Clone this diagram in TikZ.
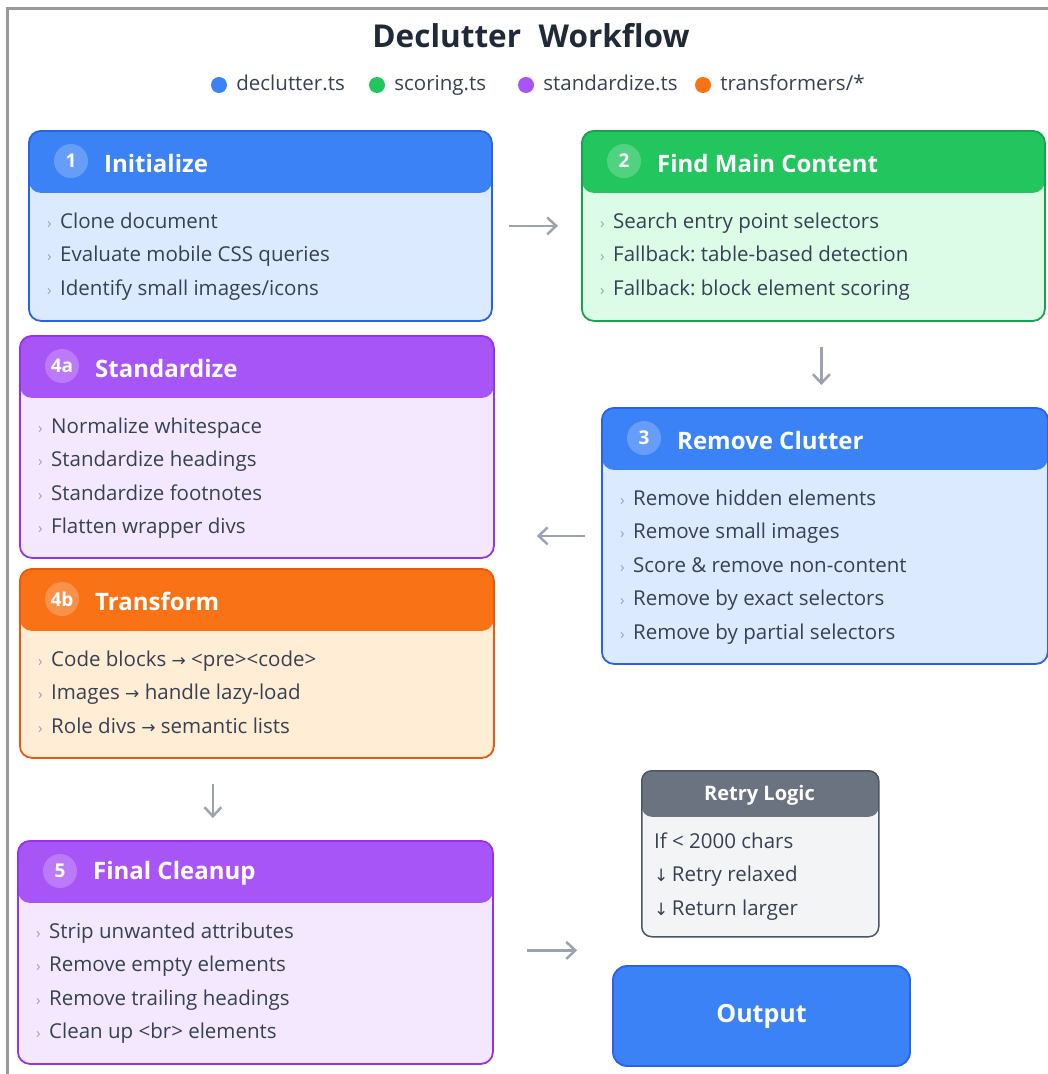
\documentclass[tikz,border=0pt]{standalone}
\usepackage{fontspec}
\setmainfont{Open Sans}
\newfontfamily\symfont{DejaVu Sans}
\usetikzlibrary{arrows.meta,positioning}
\frenchspacing

\definecolor{bluehead}{HTML}{3B82F6}
\definecolor{bluebody}{HTML}{DBEAFE}
\definecolor{blueline}{HTML}{2563EB}
\definecolor{greenhead}{HTML}{22C55E}
\definecolor{greenbody}{HTML}{DCFCE7}
\definecolor{greenline}{HTML}{16A34A}
\definecolor{purplehead}{HTML}{A855F7}
\definecolor{purplebody}{HTML}{F3E8FF}
\definecolor{purpleline}{HTML}{9333EA}
\definecolor{orangehead}{HTML}{F97316}
\definecolor{orangebody}{HTML}{FFEDD5}
\definecolor{orangeline}{HTML}{EA580C}
\definecolor{grayhead}{HTML}{6B7280}
\definecolor{graybody}{HTML}{F3F4F6}
\definecolor{grayline}{HTML}{4B5563}
\definecolor{textgray}{HTML}{374151}
\definecolor{titlegray}{HTML}{1F2937}
\definecolor{arrowgray}{HTML}{9CA3AF}
\definecolor{framegray}{HTML}{999999}

\newcommand{\toarr}{{\symfont\fontsize{17}{17}\selectfont →}}
\newcommand{\downarr}{{\symfont\fontsize{17}{17}\selectfont ↓}}
\newcommand{\bul}{\makebox[13pt][l]{\color{arrowgray}\fontsize{15}{15}\selectfont ›}}

\tikzset{
  card/.style={rectangle, rounded corners=12pt, line width=1.8pt, anchor=north west,
    inner sep=0pt, draw=#1line, fill=#1body,
    path picture={\fill[#1head] (path picture bounding box.north west)
      rectangle ([yshift=-62pt]path picture bounding box.north east);}},
  retrycard/.style={rectangle, rounded corners=10pt, line width=1.5pt, anchor=north west,
    inner sep=0pt, draw=grayline, fill=graybody,
    path picture={\fill[grayhead] (path picture bounding box.north west)
      rectangle ([yshift=-46pt]path picture bounding box.north east);}},
  badge/.style={circle, fill=white, fill opacity=0.22, text opacity=1, text=white,
    minimum size=34pt, inner sep=0pt, font=\bfseries\fontsize{19}{19}\selectfont},
  headtext/.style={anchor=west, inner sep=0pt, text=white, font=\bfseries\fontsize{24}{24}\selectfont},
  item/.style={anchor=west, inner sep=0pt, text=textgray, text height=15pt, text depth=5pt,
    font=\fontsize{20.5}{20.5}\selectfont},
  legdot/.style={circle, fill=#1, minimum size=16pt, inner sep=0pt},
  legtext/.style={inner sep=0pt, text=textgray, text height=15pt, text depth=5pt,
    font=\fontsize{20.5}{20.5}\selectfont},
  flow/.style={-{Straight Barb[length=9pt,width=17pt,line width=2.5pt]}, line width=2.5pt, draw=arrowgray},
  outbox/.style={rectangle, rounded corners=14pt, line width=1.8pt, draw=blueline, fill=bluehead,
    minimum width=297pt, minimum height=100pt, text=white, font=\bfseries\fontsize{25}{25}\selectfont}
}

% name, left, top, width, height, theme, badge, title, items
\newcommand{\stepcard}[9]{%
  \node[card=#6, minimum width=#4pt, minimum height=#5pt] (#1) at (#2,#3) {};
  \node[badge] (#1-badge) at ({#2+43},{#3+31}) {#7};
  \node[headtext] (#1-title) at ({#2+76},{#3+33}) {#8};
  \foreach \t [count=\i] in {#9}
    \node[item] (#1-item\i) at ({#2+19},{#3+93+33.5*(\i-1)}) {\bul\t};
}

\begin{document}
\begin{tikzpicture}[x=1pt, y=-1pt]
  \useasboundingbox (0,0) rectangle (1048,1074);
  % Cadre
  \draw[framegray, line width=3pt] (7,1074) -- (7,8.5) -- (1048,8.5);
  % Titre
  \node[text=titlegray, font=\bfseries\fontsize{31.5}{31.5}\selectfont] (title) at (531,36)
    {Declutter\hspace{0.3em} Workflow};
  % Légende
  \foreach \x/\c/\t [count=\i] in {219/bluehead/declutter.ts, 377/greenhead/scoring.ts,
      526/purplehead/standardize.ts, 703/orangehead/{transformers/*}} {
    \node[legdot=\c] (dot\i) at (\x,85) {};
    \node[legtext, right=9pt of dot\i] (leg\i) {\t};
  }
  % Étapes
  \stepcard{init}{28}{130}{463}{190}{blue}{1}{Initialize}
    {Clone document, Evaluate mobile CSS queries, Identify small images/icons}
  \stepcard{findmain}{581}{130}{463}{190}{green}{2}{Find Main Content}
    {Search entry point selectors, Fallback: table-based detection, Fallback: block element scoring}
  \stepcard{clutter}{601}{407}{446}{256}{blue}{3}{Remove Clutter}
    {Remove hidden elements, Remove small images, Score \& remove non-content,
     Remove by exact selectors, Remove by partial selectors}
  \stepcard{standardize}{19}{335}{474}{222}{purple}{4a}{Standardize}
    {Normalize whitespace, Standardize headings, Standardize footnotes, Flatten wrapper divs}
  \stepcard{transform}{19}{568}{474}{189}{orange}{4b}{Transform}
    {Code blocks \toarr\ <pre><code>, Images \toarr\ handle lazy-load, Role divs \toarr\ semantic lists}
  \stepcard{cleanup}{17}{840}{475}{223}{purple}{5}{Final Cleanup}
    {Strip unwanted attributes, Remove empty elements, Remove trailing headings, Clean up <br> elements}
  % Retry
  \node[retrycard, minimum width=237pt, minimum height=166pt] (retry) at (641,770) {};
  \node[text=white, font=\bfseries\fontsize{20}{20}\selectfont] (retry-title) at (759.5,795) {Retry Logic};
  \foreach \t [count=\i] in {If < 2000 chars, \downarr\,Retry relaxed, \downarr\,Return larger}
    \node[item] (retry-item\i) at (654,{843+33.5*(\i-1)}) {\t};
  % Sortie
  \node[outbox] (output) at (761.5,1016) {Output};
  % Flèches
  \draw[flow, shorten <=16pt, shorten >=23pt] (init) -- (findmain);
  \draw[flow, shorten <=25pt, shorten >=22pt] ([xshift=8pt]findmain.south)
    -- ([xshift=8pt]findmain.south |- clutter.north);
  \draw[flow, shorten <=16pt, shorten >=42pt] (clutter.west) -- (clutter.west -| standardize.east);
  \draw[flow, shorten <=25pt, shorten >=22pt] ([xshift=-44pt]transform.south)
    -- ([xshift=-44pt]transform.south |- cleanup.north);
  \draw[flow, shorten <=33pt, shorten >=35pt] ([yshift=2pt]cleanup.east)
    -- ([yshift=2pt]cleanup.east -| output.west);
\end{tikzpicture}
\end{document}
